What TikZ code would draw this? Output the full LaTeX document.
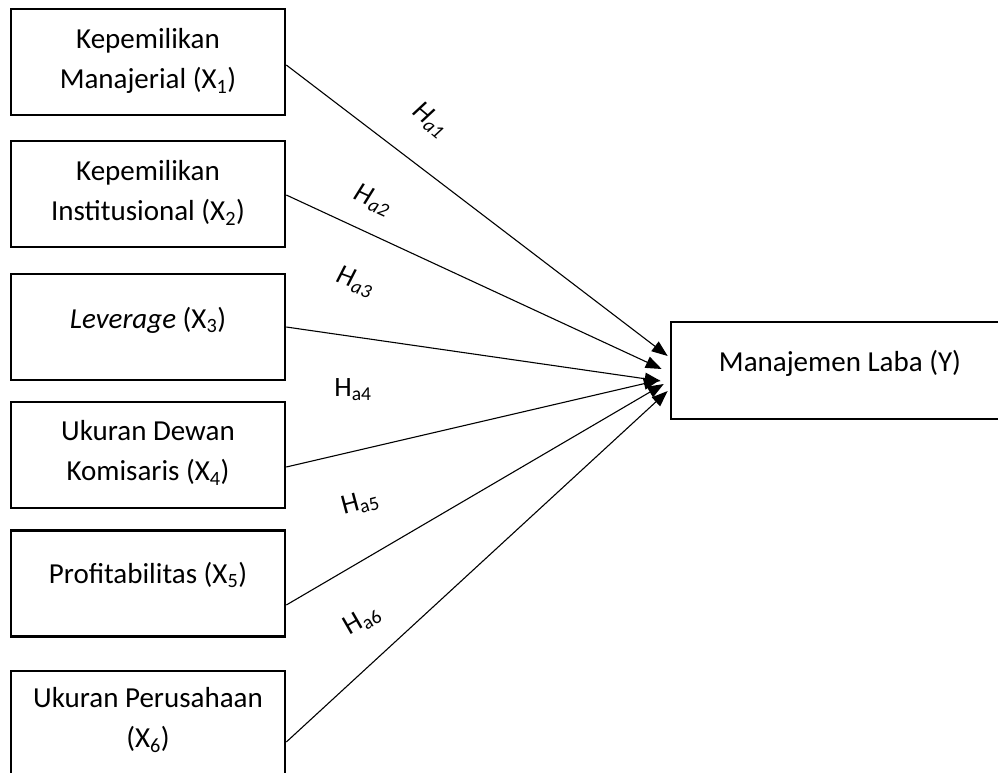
\documentclass[tikz,border=0pt]{standalone}
\usepackage{fontspec}
\setmainfont{Carlito}
\usetikzlibrary{arrows.meta}
\begin{document}
\begin{tikzpicture}[x=1pt,y=-1pt,
  box/.style={draw,line width=2.6pt,inner sep=0pt,minimum width=274pt,minimum height=106pt},
  ybox/.style={draw,line width=2.6pt,inner sep=0pt,minimum width=420pt,minimum height=97pt},
  txt/.style={font=\fontsize{29}{40}\selectfont,align=center,inner sep=0pt},
  link/.style={line width=1.1pt,-{Triangle[length=16pt,width=12pt]}},
  hyp/.style={font=\fontsize{28}{30}\selectfont,inner sep=0pt}]
\clip (0,0) rectangle (998,772);
\useasboundingbox (0,0) rectangle (998,772);
% boxes
\node[box] (b1) at (148,62) {};
\node[box] (b2) at (148,194) {};
\node[box] (b3) at (148,327) {};
\node[box] (b4) at (148,455) {};
\node[box] (b5) at (148,583.5) {};
\node[box] (b6) at (148,724) {};
\node[ybox] (Y) at (881,370.5) {};
% texts
\node[txt] (t1) at (148,61) {Kepemilikan\\Manajerial (X\textsubscript{1})};
\node[txt] (t2) at (148,193) {Kepemilikan\\Institusional (X\textsubscript{2})};
\node[txt] (t3) at (148,320) {\textit{Leverage} (X\textsubscript{3})};
\node[txt] (t4) at (148,453) {Ukuran Dewan\\Komisaris (X\textsubscript{4})};
\node[txt] (t5) at (148,575) {Profitabilitas (X\textsubscript{5})};
\node[txt] (t6) at (148,720) {Ukuran Perusahaan\\(X\textsubscript{6})};
\node[txt] (ty) at (840,363) {Manajemen Laba (Y)};
% connectors
\draw[link] ([yshift=-3pt]b1.east) -- ([xshift=-2pt,yshift=14.5pt]Y.west);
\draw[link] ([yshift=-1pt]b2.east) -- ([xshift=-8pt,yshift=1.5pt]Y.west);
\draw[link] (b3.east) -- ([xshift=-9pt,yshift=-10.5pt]Y.west);
\draw[link] ([yshift=-12pt]b4.east) -- ([xshift=-10pt,yshift=-9.5pt]Y.west);
\draw[link] ([yshift=-21.5pt]b5.east) -- ([xshift=-6pt,yshift=-13.5pt]Y.west);
\draw[link] ([yshift=-18pt]b6.east) -- ([xshift=-2pt,yshift=-20.5pt]Y.west);
% labels
\node[hyp,rotate=-40] (h1) at (430,120) {\textit{H\textsubscript{a1}}};
\node[hyp,rotate=-25] (h2) at (373,200) {\textit{H\textsubscript{a2}}};
\node[hyp,rotate=-20] (h3) at (355,282) {\textit{H\textsubscript{a3}}};
\node[hyp] (h4) at (353,390) {H\textsubscript{a4}};
\node[hyp,rotate=15] (h5) at (360,503) {H\textsubscript{a5}};
\node[hyp,rotate=30] (h6) at (362,620) {H\textsubscript{a6}};
\end{tikzpicture}
\end{document}
